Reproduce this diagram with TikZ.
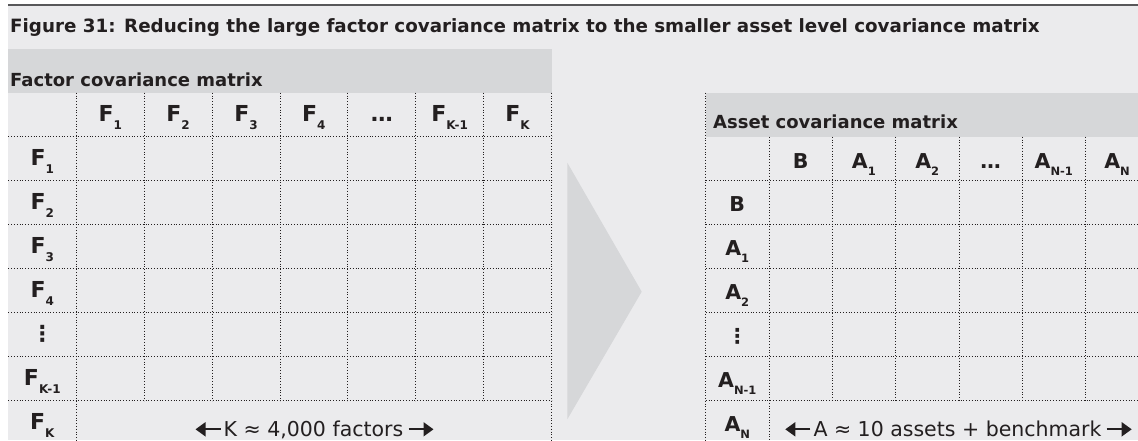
\documentclass[tikz,border=0pt]{standalone}
\usepackage{fontspec}
\setmainfont{DejaVu Sans}
\usetikzlibrary{arrows.meta,calc}

\definecolor{bggrey}{HTML}{EBEBED}
\definecolor{bandgrey}{HTML}{D6D7D9}
\definecolor{inkgrey}{HTML}{231F20}
\definecolor{rulegrey}{HTML}{58585A}

\newcommand{\subF}[1]{F\raisebox{-8pt}{\fontsize{12}{12}\selectfont #1}}
\newcommand{\subA}[1]{A\raisebox{-7.5pt}{\fontsize{11.5}{12}\selectfont #1}}

\tikzset{
  gridline/.style={inkgrey, line width=0.7pt, dash pattern=on 0.7pt off 2.1pt},
  flabel/.style={font=\bfseries\fontsize{22}{24}\selectfont, text=inkgrey, inner sep=0pt, anchor=base},
  alabel/.style={font=\bfseries\fontsize{20.5}{22}\selectfont, text=inkgrey, inner sep=0pt, anchor=base},
  heading/.style={font=\bfseries\fontsize{18}{20}\selectfont, text=inkgrey, anchor=base west, inner sep=0pt},
  spanlabel/.style={font=\fontsize{20.5}{22}\selectfont, text=inkgrey, anchor=base, inner sep=0pt},
  sizearrow/.style={inkgrey, line width=1.7pt, -{Triangle[length=10pt,width=14pt]}}
}

\begin{document}
\begin{tikzpicture}[x=1pt,y=-1pt]
	\useasboundingbox (0,0) rectangle (1138,440);
	\fill[white] (0,0) rectangle (1138,440);
	\fill[bggrey] (8.3,5) rectangle (1138,440);
	\draw[rulegrey, line width=1.4pt] (8.3,5) -- (1138,5);
	\node[heading, font=\bfseries\fontsize{18.3}{20}\selectfont] (title) at (10,32) {Figure 31: Reducing the large factor covariance matrix to the smaller asset level covariance matrix};

	% factor covariance matrix
	\fill[bandgrey] (8.3,48.7) rectangle (551.5,92.7);
	\node[heading] (fhead) at (10,86) {Factor covariance matrix};
	\foreach \j in {1,...,7}
		\draw[gridline] (8.3,92.7+44*\j) -- (551.5,92.7+44*\j);
	\foreach \i in {2,...,7}
		\draw[gridline] (8.3+67.9*\i,92.7) -- (8.3+67.9*\i,400.7);
	\foreach \i in {1,8}
		\draw[gridline] (8.3+67.9*\i,92.7) -- (8.3+67.9*\i,440);
	\foreach \t [count=\i] in {{\subF{1}},{\subF{2}},{\subF{3}},{\subF{4}},{…},{\subF{K-1}},{\subF{K}}}
		\node[flabel] (fc\i) at (8.3+67.9*\i+34,121.2) {\t};
	\foreach \t [count=\j] in {{\subF{1}},{\subF{2}},{\subF{3}},{\subF{4}},{⋮},{\subF{K-1}},{\subF{K}}}
		\node[flabel] (fr\j) at (42.3,92.7+44*\j+28.5) {\t};
	\node[spanlabel] (kspan) at (313.5,436.7) {K ≈ 4,000 factors};
	\draw[sizearrow] (kspan.base west) ++(-3,-7.4) -- ++(-25,0);
	\draw[sizearrow] (kspan.base east) ++(5,-7.4) -- ++(25,0);

	% reduction
	\fill[bandgrey] (567.3,162.7) -- (641.7,291.7) -- (567.3,419.3) -- cycle;

	% asset covariance matrix
	\fill[bandgrey] (705.7,92.7) rectangle (1138,136.7);
	\node[heading] (ahead) at (713,128) {Asset covariance matrix};
	\draw[gridline] (705.7,92.7) -- (705.7,440);
	\foreach \j in {1,...,6}
		\draw[gridline] (705.7,136.7+44*\j) -- (1138,136.7+44*\j);
	\foreach \i in {2,...,6}
		\draw[gridline] (705.7+63.3*\i,136.7) -- (705.7+63.3*\i,400.7);
	\draw[gridline] (769,136.7) -- (769,440);
	\foreach \t [count=\i] in {{B},{\subA{1}},{\subA{2}},{…},{\subA{N-1}},{\subA{N}}}
		\node[alabel] (ac\i) at (705.7+63.3*\i+31.6,168.4) {\t};
	\foreach \t [count=\j] in {{B},{\subA{1}},{\subA{2}},{⋮},{\subA{N-1}},{\subA{N}}}
		\node[alabel] (ar\j) at (737.3,136.7+44*\j+30.3) {\t};
	\node[spanlabel] (aspan) at (957.5,436.7) {A ≈ 10 assets + benchmark};
	\draw[sizearrow] (aspan.base west) ++(-3,-7.4) -- ++(-25,0);
	\draw[sizearrow] (aspan.base east) ++(5,-7.4) -- ++(25,0);
%	\draw[gridline] (1148.8,136.7) -- (1148.8,400.7);
\end{tikzpicture}
\end{document}
